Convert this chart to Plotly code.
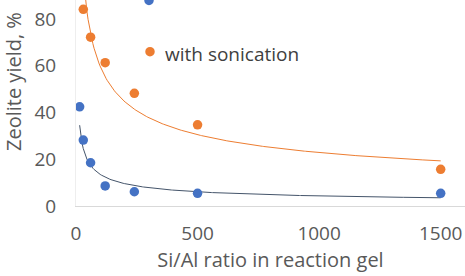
import numpy as np
import plotly.graph_objects as go

# Data
si_al_without = [15, 30, 60, 120, 240, 500, 1500]
yield_without = [42.4, 28.2, 18.5, 8.6, 6.1, 5.4, 5.4]

si_al_with = [30, 60, 120, 240, 500, 1500]
yield_with = [84.1, 72.2, 61.3, 48.2, 34.7, 15.7]

series_names = ["without sonication", "with sonication"]
x_ticks = [0, 500, 1000, 1500]
y_ticks = [0, 20, 40, 60, 80]

BLUE = "#4472C4"
ORANGE = "#ED7D31"
GRAY = "#595959"
FONT = "Open Sans, sans-serif"

W, H = 465, 276
ML, MB = 76, 70
PW, PH = W - ML, H - MB


def power_fit(x, y):
    # Excel-style power trendline: least squares in log-log space
    lx, ly = np.log(x), np.log(y)
    b, lna = np.polyfit(lx, ly, 1)
    xs = np.linspace(min(x), max(x), 300)
    return xs, np.exp(lna) * xs ** b


fig = go.Figure()

xs_b, ys_b = power_fit(si_al_without, yield_without)
xs_o, ys_o = power_fit(si_al_with, yield_with)

fig.add_trace(go.Scatter(x=xs_o, y=ys_o, mode="lines", showlegend=False,
                         line=dict(color=ORANGE, width=1), hoverinfo="skip"))
fig.add_trace(go.Scatter(x=xs_b, y=ys_b, mode="lines", showlegend=False,
                         line=dict(color="#44546A", width=1), hoverinfo="skip"))

fig.add_trace(go.Scatter(x=si_al_without, y=yield_without, mode="markers",
                         name=series_names[0], marker=dict(color=BLUE, size=9.5)))
fig.add_trace(go.Scatter(x=si_al_with, y=yield_with, mode="markers",
                         name=series_names[1], marker=dict(color=ORANGE, size=9.5)))


def legend_swatch(px, py, color):
    # legend symbol placed in plot-area pixel position (px, py from figure top-left)
    return dict(type="circle", xref="paper", yref="paper",
                xsizemode="pixel", ysizemode="pixel",
                xanchor=(px - ML) / PW, yanchor=1 - py / PH,
                x0=-4.75, x1=4.75, y0=-4.75, y1=4.75,
                fillcolor=color, line=dict(width=0), layer="above")


fig.update_layout(
    width=W, height=H,
    margin=dict(l=ML, r=0, t=0, b=MB, autoexpand=False),
    paper_bgcolor="white", plot_bgcolor="white",
    showlegend=False,
    font=dict(family=FONT, size=19, color=GRAY),
    xaxis=dict(range=[0, 1600], tickvals=x_ticks, showgrid=False, zeroline=False,
               showline=True, linecolor="#D9D9D9", linewidth=1, ticks="",
               automargin=False, tickfont=dict(size=19), ticklabelstandoff=10,
               title=dict(text="Si/Al ratio in reaction gel", standoff=6,
                          font=dict(size=20, color=GRAY))),
    yaxis=dict(range=[0, 88.1], tickvals=y_ticks, showgrid=False, zeroline=False,
               showline=True, linecolor="#EEEEEE", linewidth=1, ticks="",
               automargin=False, tickfont=dict(size=19),
               ticklabelstandoff=15),
    shapes=[legend_swatch(149, 0.5, BLUE), legend_swatch(150, 51.7, ORANGE)],
    annotations=[
        dict(text="Zeolite yield, %", textangle=-90, showarrow=False,
             xref="paper", yref="paper", x=(13 - ML) / PW, y=1 - 82 / PH,
             xanchor="center", yanchor="middle",
             font=dict(size=20, color=GRAY)),
        dict(text=series_names[1], showarrow=False,
             xref="paper", yref="paper", x=(163 - ML) / PW, y=1 - 54 / PH,
             xanchor="left", yanchor="middle",
             font=dict(size=19, color="#404040")),
    ],
)

fig.write_html("out.html", config={"displayModeBar": False},
               post_script="document.body.style.margin='0';")
